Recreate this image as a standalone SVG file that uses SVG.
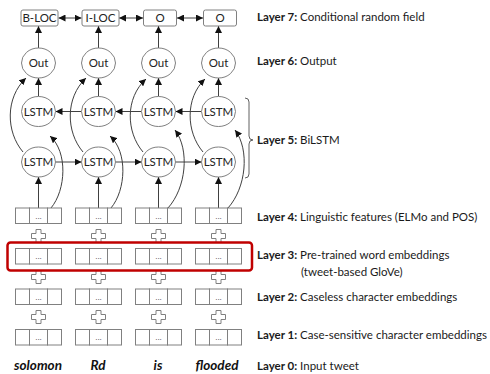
<svg xmlns="http://www.w3.org/2000/svg" width="490" height="374" viewBox="0 0 490 374">
<style>
.crf{fill:#fff;stroke:#808080;stroke-width:1}
.node{fill:#fff;stroke:#808080;stroke-width:1}
.cell{fill:#fff;stroke:#808080;stroke-width:1}
.plus{fill:#fff;stroke:#808080;stroke-width:1}
.lbl{font-family:Lato,"Liberation Sans",sans-serif;font-size:11.5px;fill:#222;text-anchor:middle}
.dots{font-family:"Liberation Sans",sans-serif;font-size:8px;fill:#333;text-anchor:middle}
.word{font-family:Lato,"Liberation Sans",sans-serif;font-size:13.5px;font-weight:bold;font-style:italic;fill:#111;text-anchor:middle}
.layer{font-family:Lato,"Liberation Sans",sans-serif;font-size:11.5px;fill:#1a1a1a}
.layer tspan.b{font-weight:bold}
.arr{fill:none;stroke:#404040;stroke-width:1;marker-end:url(#ah)}
.dbl{fill:none;stroke:#404040;stroke-width:1;marker-end:url(#ah);marker-start:url(#ah)}
.brace{fill:none;stroke:#606060;stroke-width:1}
</style>
<defs>
<marker id="ah" markerUnits="userSpaceOnUse" markerWidth="8" markerHeight="7" refX="7" refY="3.5" orient="auto-start-reverse">
<path d="M0,0 L7,3.5 L0,7 z" fill="#111"/>
</marker>
<g id="emb">
<rect class="cell" x="-23" y="0" width="14" height="15.5"/>
<rect class="cell" x="-9" y="0" width="18" height="15.5"/>
<rect class="cell" x="9" y="0" width="14" height="15.5"/>
<text class="dots" x="0" y="10.5">...</text>
</g>
<path id="plus" class="plus" d="M-2.5,-6.5 H2.5 V-2.5 H7 V2.5 H2.5 V6.5 H-2.5 V2.5 H-7 V-2.5 H-2.5 Z"/>
</defs>

<g id="connectors">
<path class="dbl" d="M58.5,18 H81.5"/>
<path class="dbl" d="M119,18 H143"/>
<path class="dbl" d="M177,18 H203"/>
<path class="arr" d="M38.5,48 V26"/>
<path class="arr" d="M98.5,48 V26"/>
<path class="arr" d="M158.5,48 V26"/>
<path class="arr" d="M218.5,48 V26"/>
<path class="arr" d="M38.5,96.5 V78"/>
<path class="arr" d="M98.5,96.5 V78"/>
<path class="arr" d="M158.5,96.5 V78"/>
<path class="arr" d="M218.5,96.5 V78"/>
<path class="arr" d="M81.5,111.5 H55.5"/>
<path class="arr" d="M141.5,111.5 H115.5"/>
<path class="arr" d="M201.5,111.5 H175.5"/>
<path class="arr" d="M55.5,162 H81.5"/>
<path class="arr" d="M115.5,162 H141.5"/>
<path class="arr" d="M175.5,162 H201.5"/>
<path class="arr" d="M38.5,208 V177"/>
<path class="arr" d="M98.5,208 V177"/>
<path class="arr" d="M158.5,208 V177"/>
<path class="arr" d="M218.5,208 V177"/>
<path class="arr" d="M23,152 C6,132 5,98 26,78"/>
<path class="arr" d="M83,152 C66,132 65,98 86,78"/>
<path class="arr" d="M143,152 C126,132 125,98 146,79"/>
<path class="arr" d="M203,152 C186,132 185,98 205,79"/>
<path class="arr" d="M51,208 C66,190 68,152 50,136"/>
<path class="arr" d="M111,208 C126,190 128,152 110,136"/>
<path class="arr" d="M168,208 C186,188 190,150 175,130"/>
<path class="arr" d="M228,208 C246,188 250,150 235,130"/>
</g>

<g id="crf">
<g id="crf1"><rect class="crf" x="21" y="10" width="37" height="16" rx="2"/><text class="lbl" x="39.5" y="22">B-LOC</text></g>
<g id="crf2"><rect class="crf" x="82" y="10" width="37" height="16" rx="2"/><text class="lbl" x="100.5" y="22">I-LOC</text></g>
<g id="crf3"><rect class="crf" x="143.5" y="10" width="33" height="16" rx="2"/><text class="lbl" x="160" y="22">O</text></g>
<g id="crf4"><rect class="crf" x="203.5" y="10" width="33" height="16" rx="2"/><text class="lbl" x="220" y="22">O</text></g>
</g>

<g id="out">
<g id="out1"><ellipse class="node" cx="38.5" cy="63" rx="17" ry="15"/><text class="lbl" x="38.5" y="67">Out</text></g>
<g id="out2"><ellipse class="node" cx="98.5" cy="63" rx="17" ry="15"/><text class="lbl" x="98.5" y="67">Out</text></g>
<g id="out3"><ellipse class="node" cx="158.5" cy="63" rx="17" ry="15"/><text class="lbl" x="158.5" y="67">Out</text></g>
<g id="out4"><ellipse class="node" cx="218.5" cy="63" rx="17" ry="15"/><text class="lbl" x="218.5" y="67">Out</text></g>
</g>

<g id="lstm-bwd">
<g id="bwd1"><ellipse class="node" cx="38.5" cy="111.5" rx="17" ry="15"/><text class="lbl" x="38.5" y="115.5">LSTM</text></g>
<g id="bwd2"><ellipse class="node" cx="98.5" cy="111.5" rx="17" ry="15"/><text class="lbl" x="98.5" y="115.5">LSTM</text></g>
<g id="bwd3"><ellipse class="node" cx="158.5" cy="111.5" rx="17" ry="15"/><text class="lbl" x="158.5" y="115.5">LSTM</text></g>
<g id="bwd4"><ellipse class="node" cx="218.5" cy="111.5" rx="17" ry="15"/><text class="lbl" x="218.5" y="115.5">LSTM</text></g>
</g>

<g id="lstm-fwd">
<g id="fwd1"><ellipse class="node" cx="38.5" cy="162" rx="17" ry="15"/><text class="lbl" x="38.5" y="166">LSTM</text></g>
<g id="fwd2"><ellipse class="node" cx="98.5" cy="162" rx="17" ry="15"/><text class="lbl" x="98.5" y="166">LSTM</text></g>
<g id="fwd3"><ellipse class="node" cx="158.5" cy="162" rx="17" ry="15"/><text class="lbl" x="158.5" y="166">LSTM</text></g>
<g id="fwd4"><ellipse class="node" cx="218.5" cy="162" rx="17" ry="15"/><text class="lbl" x="218.5" y="166">LSTM</text></g>
</g>

<g id="embeddings">
<g id="l4"><use href="#emb" x="38.5" y="208"/><use href="#emb" x="98.5" y="208"/><use href="#emb" x="158.5" y="208"/><use href="#emb" x="218.5" y="208"/></g>
<g id="plus43"><use href="#plus" x="38.5" y="236"/><use href="#plus" x="98.5" y="236"/><use href="#plus" x="158.5" y="236"/><use href="#plus" x="218.5" y="236"/></g>
<g id="l3"><use href="#emb" x="38.5" y="248.5"/><use href="#emb" x="98.5" y="248.5"/><use href="#emb" x="158.5" y="248.5"/><use href="#emb" x="218.5" y="248.5"/></g>
<g id="plus32"><use href="#plus" x="38.5" y="277"/><use href="#plus" x="98.5" y="277"/><use href="#plus" x="158.5" y="277"/><use href="#plus" x="218.5" y="277"/></g>
<g id="l2"><use href="#emb" x="38.5" y="289"/><use href="#emb" x="98.5" y="289"/><use href="#emb" x="158.5" y="289"/><use href="#emb" x="218.5" y="289"/></g>
<g id="plus21"><use href="#plus" x="38.5" y="317"/><use href="#plus" x="98.5" y="317"/><use href="#plus" x="158.5" y="317"/><use href="#plus" x="218.5" y="317"/></g>
<g id="l1"><use href="#emb" x="38.5" y="329.5"/><use href="#emb" x="98.5" y="329.5"/><use href="#emb" x="158.5" y="329.5"/><use href="#emb" x="218.5" y="329.5"/></g>
</g>

<g id="highlight">
<rect x="7.5" y="242.5" width="244.5" height="28" rx="3" fill="none" stroke="#c00000" stroke-width="2.5"/>
</g>

<g id="words">
<text class="word" x="38" y="370">solomon</text>
<text class="word" x="98" y="370">Rd</text>
<text class="word" x="158" y="370">is</text>
<text class="word" x="217" y="370">flooded</text>
</g>

<g id="brace">
<path class="brace" d="M245,98 Q249,98 249,102 L249,136 Q249,140 253,140 Q249,140 249,144 L249,174 Q249,178 245,178"/>
</g>

<g id="labels">
<text class="layer" x="257" y="21"><tspan class="b">Layer 7:</tspan> Conditional random field</text>
<text class="layer" x="257" y="65"><tspan class="b">Layer 6:</tspan> Output</text>
<text class="layer" x="257" y="144"><tspan class="b">Layer 5:</tspan> BiLSTM</text>
<text class="layer" x="257" y="221"><tspan class="b">Layer 4:</tspan> Linguistic features (ELMo and POS)</text>
<text class="layer" x="257" y="259"><tspan class="b">Layer 3:</tspan> Pre-trained word embeddings</text>
<text class="layer" x="301" y="276">(tweet-based GloVe)</text>
<text class="layer" x="257" y="301"><tspan class="b">Layer 2:</tspan> Caseless character embeddings</text>
<text class="layer" x="257" y="339"><tspan class="b">Layer 1:</tspan> Case-sensitive character embeddings</text>
<text class="layer" x="257" y="370"><tspan class="b">Layer 0:</tspan> Input tweet</text>
</g>
</svg>
